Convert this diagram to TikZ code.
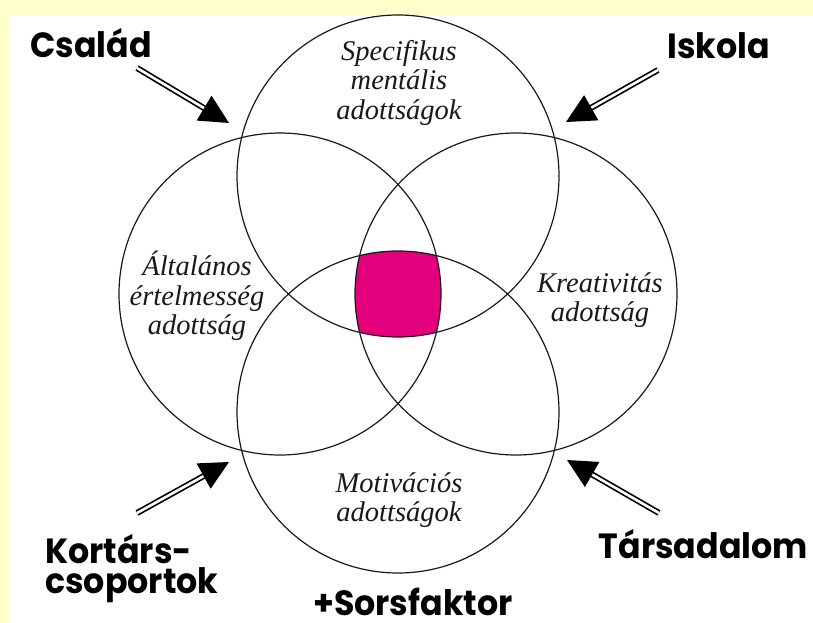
\documentclass[tikz,border=0pt]{standalone}
\usepackage{fontspec}
\setmainfont{Liberation Serif}
\newfontfamily\labfont{Poppins}[FakeStretch=0.95]
\usetikzlibrary{calc}
\definecolor{bgyellow}{RGB}{255,255,206}
\definecolor{core}{RGB}{226,0,124}
\tikzset{
  ringcircle/.style={circle, draw=black!90, line width=1.2pt, minimum size=322pt, inner sep=0pt},
  factorlabel/.style={font=\labfont\bfseries\fontsize{35}{30}\selectfont, inner sep=0pt},
  circlabel/.style={font=\itshape\fontsize{28.5}{29.5}\selectfont, align=center, inner sep=0pt, text=black!90},
  shaftline/.style={draw=black, double=white, double distance=2.6pt, line width=1.7pt},
  headfill/.style={fill=black},
}
\newcommand\influence[2]{%
  \draw[shaftline] (#1) -- ($(#2)!24pt!(#1)$);
  \fill[headfill] (#2) -- ($($(#2)!29pt!(#1)$)!14.5pt!90:(#2)$) -- ($($(#2)!29pt!(#1)$)!14.5pt!-90:(#2)$) -- cycle;
}
\begin{document}
\begin{tikzpicture}[x=1pt,y=-1pt]
\fill[bgyellow] (0,0) rectangle (813,623);
\fill[white] (10,15) rectangle (813,623);
\useasboundingbox (0,0) rectangle (813,623);

% centres of the four circles
\coordinate (ct) at (398,176);
\coordinate (cb) at (398,412);
\coordinate (cl) at (280,294);
\coordinate (cr) at (516,294);

% common core
\begin{scope}
  \clip (ct) circle[radius=161pt];
  \clip (cb) circle[radius=161pt];
  \clip (cl) circle[radius=161pt];
  \fill[core] (cr) circle[radius=161pt];
\end{scope}

\node[ringcircle] (Ctop) at (ct) {};
\node[ringcircle] (Cbot) at (cb) {};
\node[ringcircle] (Cleft) at (cl) {};
\node[ringcircle] (Cright) at (cr) {};

% circle labels
\node[circlabel] (spec) at (399,83) {Specifikus\\mentális\\adottságok};
\node[circlabel] (alt) at (197,296) {Általános\\értelmesség\\adottság};
\node[circlabel] (krea) at (600,300) {Kreativitás\\adottság};
\node[circlabel] (moti) at (399,500) {Motivációs\\adottságok};

% outside factors
\node[factorlabel, anchor=base west] (csal) at (30,58) {Család};
\node[factorlabel, anchor=base east] (isk) at (770,59) {Iskola};
\node[factorlabel, anchor=base west, align=left] (kort) at (45,593) {Kortárs-\\csoportok};
\node[factorlabel, anchor=base east] (tars) at (808,558) {Társadalom};
\node[factorlabel, anchor=base west] (sors) at (313,615) {+Sorsfaktor};

% arrows
\coordinate (csalS) at (137,68);   \coordinate (csalT) at (229,123);
\coordinate (iskS) at (658,70);    \coordinate (iskT) at (566,122);
\coordinate (kortS) at (137,513);  \coordinate (kortT) at (229,462);
\coordinate (tarsS) at (659,513);  \coordinate (tarsT) at (567,460);
\influence{csalS}{csalT}
\influence{iskS}{iskT}
\influence{kortS}{kortT}
\influence{tarsS}{tarsT}
\end{tikzpicture}
\end{document}
